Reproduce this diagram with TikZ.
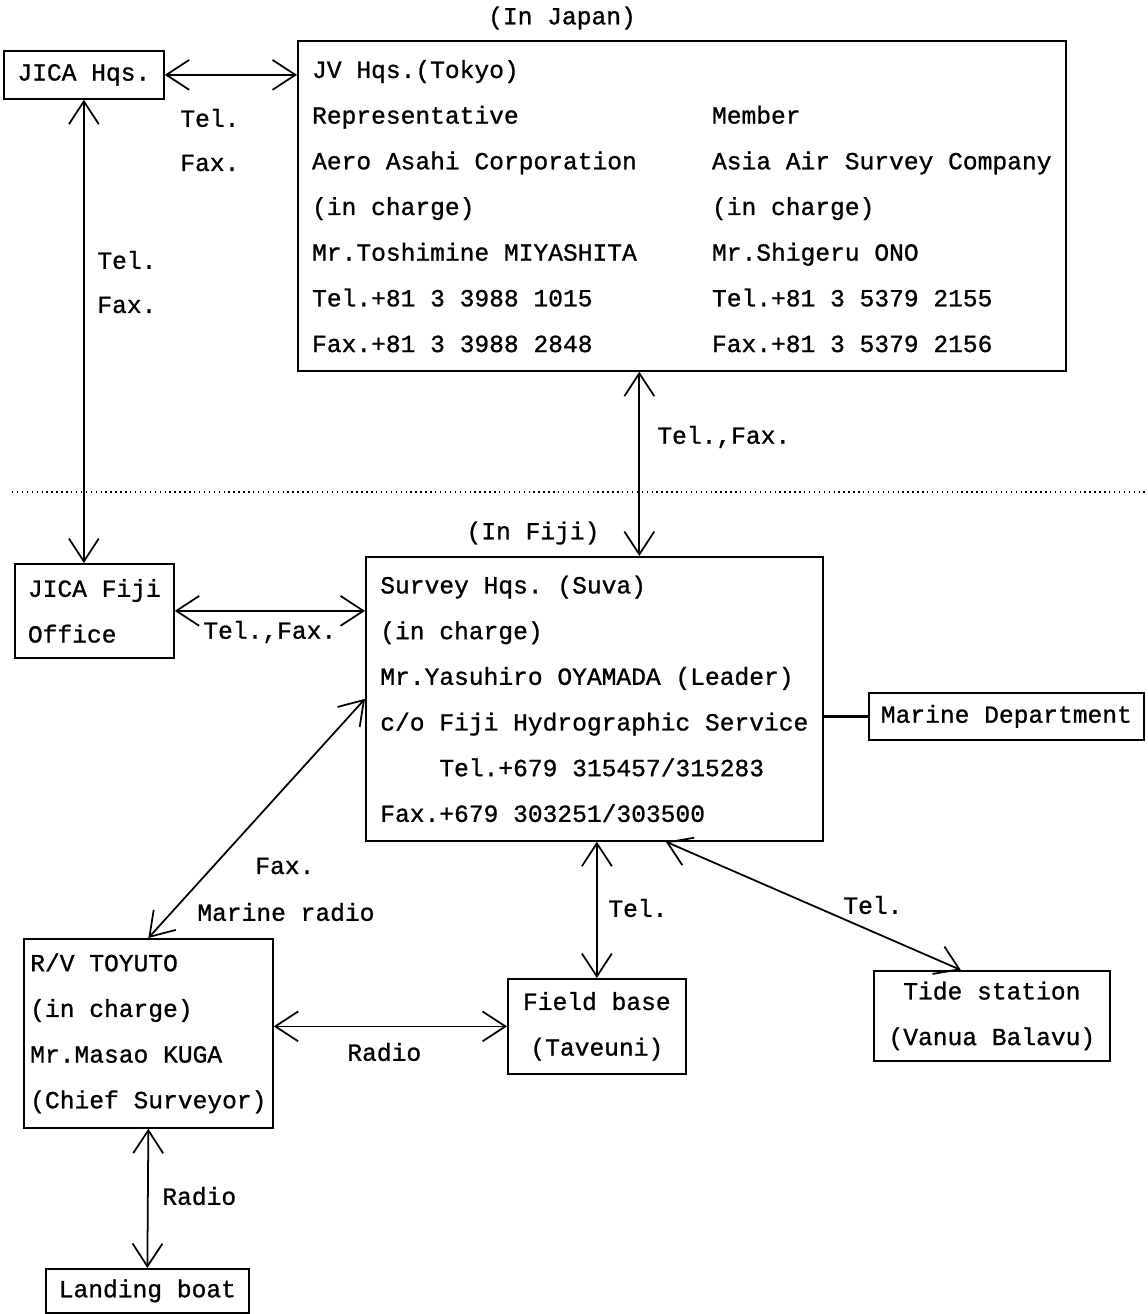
\documentclass[tikz,border=0pt]{standalone}
\usepackage{fontspec}
\newfontfamily\scanfont[FakeBold=1]{Liberation Mono}
\usetikzlibrary{arrows.meta, positioning}
\tikzstyle{box} = [draw=black, line width=1pt, rectangle, inner sep=2pt, anchor=north west]
\tikzstyle{link} = [line width=1pt, <->]
\tikzstyle{lbl} = [inner sep=0pt, anchor=west]

\begin{document}
\begin{tikzpicture}[x=0.02cm, y=-0.02cm, >={Straight Barb[length=13pt,width=17pt]}, font=\scanfont\fontsize{14}{26}\selectfont\frenchspacing]
	\useasboundingbox (0,0) rectangle (1147,1314);

	% Japan
	\node [box, minimum width=3.2cm, minimum height=0.96cm] (jicahq) at (3,50) {JICA Hqs.};
	\node [box, minimum width=15.36cm, minimum height=6.6cm] (jvhq) at (297,40) {%
		\begin{tabular}{@{}p{8cm}@{}l@{}}
			JV Hqs.(Tokyo) & \\
			Representative & Member \\
			Aero Asahi Corporation & Asia Air Survey Company \\
			(in charge) & (in charge) \\
			Mr.Toshimine MIYASHITA & Mr.Shigeru ONO \\
			Tel.+81 3 3988 1015 & Tel.+81 3 5379 2155 \\
			Fax.+81 3 3988 2848 & Fax.+81 3 5379 2156
		\end{tabular}};
	\node [lbl, anchor=center] (injapan) at (562,18) {(In Japan)};

	% separator
	\coordinate (sepL) at (12,492);
	\coordinate (sepR) at (1147,492);
	\draw [dotted, line width=0.8pt] (sepL) -- (sepR);

	% Fiji
	\node [lbl, anchor=center] (infiji) at (533,533) {(In Fiji)};
	\node [box, align=left, minimum width=3.18cm, minimum height=1.88cm] (jicafiji) at (14,563) {JICA Fiji\\Office};
	\node [box, align=left, minimum width=9.14cm, minimum height=5.68cm] (survey) at (365,556) {Survey Hqs. (Suva)\\(in charge)\\Mr.Yasuhiro OYAMADA (Leader)\\c/o Fiji Hydrographic Service\\\phantom{xxxx}Tel.+679 315457/315283\\Fax.+679 303251/303500};
	\node [box, minimum width=5.5cm, minimum height=0.94cm] (marine) at (868,692) {Marine Department};
	\node [box, align=left, minimum width=4.98cm, minimum height=3.78cm] (rv) at (23,938) {R/V TOYUTO\\(in charge)\\Mr.Masao KUGA\\(Chief Surveyor)};
	\node [box, align=center, minimum width=3.56cm, minimum height=1.9cm] (fieldbase) at (507,978) {Field base\\(Taveuni)};
	\node [box, align=center, minimum width=4.72cm, minimum height=1.8cm] (tide) at (873,970) {Tide station\\(Vanua Balavu)};
	\node [box, minimum width=4.06cm, minimum height=0.88cm] (landing) at (45,1268) {Landing boat};

	\coordinate (sv) at ([xshift=0.9cm]survey.north);

	\draw [link] (jicahq.east) -- (jicahq.east -| jvhq.west);
	\draw [link] (jicahq.south) -- (jicahq.south |- jicafiji.north);
	\draw [link] (sv |- jvhq.south) -- (sv);
	\draw [link] (jicafiji.east) -- (jicafiji.east -| survey.west);
	\draw [line width=1.6pt] (marine.west -| survey.east) -- (marine.west);
	\draw [link] (survey.west) -- (rv.north);
	\draw [link] (fieldbase.north |- survey.south) -- (fieldbase.north);
	\draw [link] ([xshift=1.43cm]survey.south) -- ([xshift=-0.62cm]tide.north);
	\draw [link] (fieldbase.west -| rv.east) -- (fieldbase.west);
	\draw [link] (rv.south) -- (landing.north);

	% labels
	\node [lbl] (tel1) at (180,118) {Tel.};
	\node [lbl] (fax1) at (180,163) {Fax.};
	\node [lbl] (tel2) at (97,260) {Tel.};
	\node [lbl] (fax2) at (97,305) {Fax.};
	\node [lbl] (telfax1) at (657,437) {Tel.,Fax.};
	\node [lbl] (telfax2) at (203,632) {Tel.,Fax.};
	\node [lbl] (fax3) at (255,866) {Fax.};
	\node [lbl] (marradio) at (197,912) {Marine radio};
	\node [lbl] (tel3) at (608,908) {Tel.};
	\node [lbl] (tel4) at (843,905) {Tel.};
	\node [lbl] (radio1) at (347,1052) {Radio};
	\node [lbl] (radio2) at (162,1196) {Radio};
\end{tikzpicture}
\end{document}
